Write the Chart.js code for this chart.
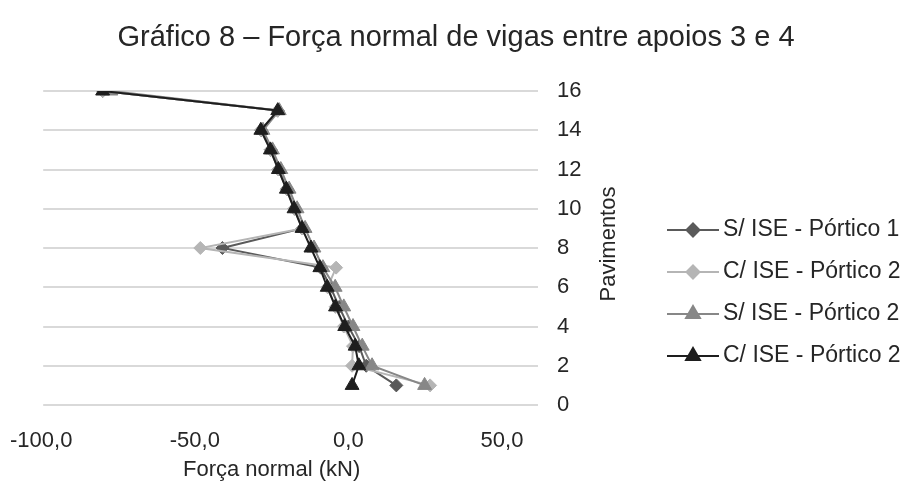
<!DOCTYPE html>
<html>
<head>
<meta charset="utf-8">
<script src="https://cdn.jsdelivr.net/npm/chart.js@4.4.1/dist/chart.umd.min.js"></script>
<style>
  html, body { margin: 0; padding: 0; background: #fff; }
  #wrap { width: 912px; height: 483px; }
</style>
</head>
<body>
<div id="wrap"><canvas id="c" width="912" height="483"></canvas></div>
<script>
// pavimentos (eixo y) e força normal (kN) por série
const pavimentos = [1, 2, 3, 4, 5, 6, 7, 8, 9, 10, 11, 12, 13, 14, 15, 16];
const sIsePortico1 = [15.6, 5.8, 3.5, 0.0, -3.0, -5.8, -9.0, -41.0, -15.0, -17.5, -20.0, -22.7, -25.3, -28.4, -23.0, -80.0];
const cIsePortico2a = [26.6, 1.2, 1.5, -1.5, -4.2, -6.8, -4.0, -48.2, -15.0, -17.6, -20.1, -22.8, -25.4, -28.5, -23.0, -80.0];
const sIsePortico2 = [24.8, 7.7, 4.5, 1.5, -1.5, -4.3, -8.3, -11.2, -14.1, -16.7, -19.3, -22.0, -24.7, -27.8, -22.5, -77.3];
const cIsePortico2b = [1.2, 3.4, 2.2, -1.2, -4.2, -6.9, -9.3, -12.2, -15.1, -17.7, -20.2, -22.8, -25.4, -28.5, -23.0, -80.0];

const xTicks = [-100, -50, 0, 50];
const FONT = "'Liberation Sans', Arial, sans-serif";
const TEXT = "#262626";
const TITLE = "Gráfico 8 – Força normal de vigas entre apoios 3 e 4";

const pts = (vals) => vals.map((v, i) => ({ x: v, y: pavimentos[i] }));

const series = [
  { label: "S/ ISE - Pórtico 1", vals: sIsePortico1, color: "#5a5a5a", style: "rectRot", r: 6.5, order: 4 },
  { label: "C/ ISE - Pórtico 2", vals: cIsePortico2a, color: "#b5b5b5", style: "rectRot", r: 6.5, order: 3 },
  { label: "S/ ISE - Pórtico 2", vals: sIsePortico2, color: "#878787", style: "triangle", r: 8, order: 2 },
  { label: "C/ ISE - Pórtico 2", vals: cIsePortico2b, color: "#1e1e1e", style: "triangle", r: 8, order: 1 },
];

// horizontal gridlines run a bit past the plot, up to the y labels
const gridExt = {
  id: "gridExt",
  beforeDatasetsDraw(chart) {
    const ctx = chart.ctx;
    const area = chart.chartArea;
    const y = chart.scales.y;
    ctx.save();
    ctx.strokeStyle = "#d9d9d9";
    ctx.lineWidth = 2;
    y.ticks.forEach(t => {
      const py = Math.round(y.getPixelForValue(t.value));
      ctx.beginPath();
      ctx.moveTo(area.left + 2, py);
      ctx.lineTo(area.right + 36, py);
      ctx.stroke();
    });
    ctx.restore();
  }
};

// título, legenda e título do eixo y desenhados à mão
const extras = {
  id: "extras",
  afterDraw(chart) {
    const ctx = chart.ctx;
    const area = chart.chartArea;
    ctx.save();
    ctx.fillStyle = TEXT;
    ctx.textBaseline = "middle";
    // chart title, centered on the canvas
    ctx.font = "29px " + FONT;
    ctx.textAlign = "center";
    ctx.fillText(TITLE, chart.width / 2, 38);
    ctx.font = "22px " + FONT;
    // y axis title
    ctx.save();
    ctx.translate(609, (area.top + area.bottom) / 2 - 4);
    ctx.rotate(-Math.PI / 2);
    ctx.fillText("Pavimentos", 0, 0);
    ctx.restore();
    // legend
    ctx.font = "23px " + FONT;
    chart.data.datasets.forEach((ds, i) => {
      const y = 230 + i * 42;
      ctx.strokeStyle = ds.borderColor;
      ctx.lineWidth = 2;
      ctx.beginPath();
      ctx.moveTo(667, y);
      ctx.lineTo(719, y);
      ctx.stroke();
      Chart.helpers.drawPoint(ctx, {
        pointStyle: ds.pointStyle, radius: ds.pointRadius, borderWidth: 1
      }, 693, y);
      ctx.fillStyle = ds.borderColor;
      ctx.fill();
      ctx.fillStyle = TEXT;
      ctx.textAlign = "left";
      ctx.fillText(ds.label, 723, y);
    });
    ctx.restore();
  }
};

new Chart(document.getElementById("c"), {
  type: "scatter",
  data: {
    datasets: series.map(s => ({
      label: s.label,
      data: pts(s.vals),
      showLine: true,
      borderColor: s.color,
      backgroundColor: s.color,
      borderWidth: 2,
      pointStyle: s.style,
      pointRadius: s.r,
      pointHoverRadius: s.r,
      pointBorderWidth: 1,
      tension: 0,
      order: s.order,
    })),
  },
  options: {
    responsive: false,
    animation: false,
    events: [],
    layout: { padding: { left: 31, right: 280, top: 91, bottom: 0 } },
    plugins: {
      legend: { display: false },
      tooltip: { enabled: false },
      title: { display: false },
    },
    scales: {
      x: {
        type: "linear",
        min: -100,
        max: 50,
        afterBuildTicks: (scale) => { scale.ticks = xTicks.map(v => ({ value: v })); },
        grid: { display: false, tickLength: 13 },
        border: { display: false },
        ticks: {
          color: TEXT,
          font: { family: FONT, size: 22 },
          padding: 10,
          maxRotation: 0,
          callback: (v) => v.toFixed(1).replace(".", ","),
        },
        title: {
          display: true,
          text: "Força normal (kN)",
          color: TEXT,
          font: { family: FONT, size: 22 },
          padding: { top: 2, bottom: 0 },
        },
        afterFit: (scale) => { scale.height = 78; },
      },
      y: {
        position: "right",
        min: 0,
        max: 16,
        ticks: {
          stepSize: 2,
          color: TEXT,
          font: { family: FONT, size: 22 },
          padding: 55,
        },
        grid: { display: false, drawTicks: false },
        border: { display: false },
        afterFit: (scale) => { scale.width = 130; },
      },
    },
  },
  plugins: [gridExt, extras],
});
</script>
</body>
</html>
